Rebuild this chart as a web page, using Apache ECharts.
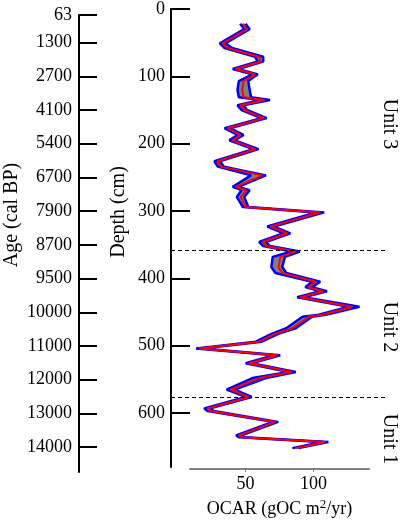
<!DOCTYPE html>
<html>
<head>
<meta charset="utf-8">
<script src="https://cdn.jsdelivr.net/npm/echarts@6/dist/echarts.min.js"></script>
<style>
  html, body { margin: 0; padding: 0; background: #fff; }
  #main { width: 401px; height: 520px; }
</style>
</head>
<body>
<div id="main"></div>
<script>
// depth of each sample (cm)
var depth = [22, 30, 51, 58, 71, 78, 89, 97, 107, 120,
    131, 135, 143, 150, 162, 177, 187, 195, 208, 226,
    234, 247, 264, 269, 279, 294, 302, 323, 333, 346,
    352, 360, 368, 383, 392, 405, 413, 419, 428, 442,
    454, 457, 474, 482, 494, 504, 514, 526, 539, 548,
    565, 576, 593, 597, 613, 633, 636, 643, 652];
// OCAR (red line)
var ocar = [48, 51, 33, 36.5, 60, 61, 42.6, 57, 48.5, 47.5,
    48.5, 64, 46.3, 49, 63.5, 36.5, 46.3, 40.2, 57.4, 29.2,
    31.6, 62.3, 42.6, 50.7, 46.3, 50, 105, 68.4, 80.7, 62.3,
    65.4, 86.8, 75.7, 74.3, 77, 102, 96.3, 107.4, 90.4, 128.7,
    106.4, 96.5, 84.3, 72, 59.8, 15.7, 73.3, 52.4, 84.3, 60,
    39, 52.4, 21.8, 24.3, 72, 45, 47, 108.8, 86.8];
// lower / upper envelope (blue lines)
var ocarLow = [46, 49, 31, 34.5, 57, 59, 40.5, 55, 45, 44,
    45, 61, 44, 47, 61.5, 34.5, 44, 38, 55.5, 27,
    29.5, 54, 40.5, 47, 43.5, 48, 102, 66, 78, 60,
    63, 84, 70, 69, 72, 99, 94, 105, 88, 126,
    104, 92, 80, 69.5, 57.5, 13.5, 71, 50, 82, 55,
    36, 50, 19.5, 22, 70, 43, 45, 106.5, 84.5];
var ocarHigh = [50, 53, 35, 40, 63, 63, 44.5, 59, 52, 53,
    54, 68, 48.5, 51, 65.5, 38.5, 48.5, 42, 59.5, 31,
    34, 65, 44.5, 53, 49, 52, 108, 71, 83, 65,
    68, 90, 79, 77, 80, 105, 99, 110, 93, 134,
    109, 99, 87, 74.5, 62, 18, 75.5, 54.5, 87, 65,
    42, 54.5, 24, 26.5, 74, 47, 49, 111, 89];

// age scale (labels placed at depth positions)
var ageDepth = [9, 50, 100, 150, 200, 250, 300, 350, 400, 450, 500, 550, 600, 650];
var ageLabels = ['63', '1300', '2700', '4100', '5400', '6700', '7900', '8700',
    '9500', '10000', '11000', '12000', '13000', '14000'];
var depthTicks = [0, 100, 200, 300, 400, 500, 600];
var ocarTicks = [50, 100];
var unitBounds = [358, 576];

var FONT = 'Liberation Serif';
var myChart = echarts.init(document.getElementById('main'));

var option = {
    backgroundColor: '#fff',
    animation: false,
    textStyle: { fontFamily: FONT },
    grid: [
        // age axis
        { left: 79, top: 15, width: 20, height: 457, outerBoundsMode: 'none' },
        // depth axis
        { left: 171, top: 9, width: 19, height: 458, outerBoundsMode: 'none' },
        // data
        { left: 190, right: 32, top: 9, height: 458, outerBoundsMode: 'none' },
        // dashed unit boundaries
        { left: 171, right: 13, top: 9, height: 458, outerBoundsMode: 'none' }
    ],
    xAxis: [
        { gridIndex: 0, type: 'value', show: false, min: 0, max: 1 },
        { gridIndex: 1, type: 'value', show: false, min: 0, max: 1 },
        {
            gridIndex: 2, type: 'value', position: 'bottom', min: 9, max: 141, offset: 2,
            axisLine: { onZero: false, lineStyle: { color: '#808080', width: 2 } },
            axisTick: { show: true, length: 3, customValues: ocarTicks, lineStyle: { color: '#808080', width: 1 } },
            axisLabel: { customValues: ocarTicks, color: '#000', fontSize: 18, fontFamily: FONT, margin: 6 },
            splitLine: { show: false },
            name: '{a|OCAR (gOC m}{s|2}{a|/yr)}',
            nameLocation: 'middle',
            nameGap: 27,
            nameTextStyle: {
                rich: {
                    a: { fontSize: 18, fontFamily: FONT, color: '#000' },
                    s: { fontSize: 13, fontFamily: FONT, color: '#000', padding: [0, 0, 9, 0] }
                }
            }
        },
        { gridIndex: 3, type: 'value', show: false, min: 0, max: 1 }
    ],
    yAxis: [
        {
            gridIndex: 0, type: 'value', inverse: true, min: 9, max: 687,
            axisLine: { onZero: false, lineStyle: { color: '#000', width: 2 } },
            axisTick: { inside: true, length: 18, customValues: ageDepth, lineStyle: { color: '#000', width: 2 } },
            axisLabel: {
                customValues: ageDepth, color: '#000', fontSize: 18, fontFamily: FONT, margin: 7,
                formatter: function (v) {
                    var i = ageDepth.indexOf(v);
                    return i >= 0 ? ageLabels[i] : '';
                }
            },
            splitLine: { show: false }
        },
        {
            gridIndex: 1, type: 'value', inverse: true, min: 0, max: 680,
            axisLine: { onZero: false, lineStyle: { color: '#000', width: 2 } },
            axisTick: { inside: true, length: 19, customValues: depthTicks, lineStyle: { color: '#000', width: 2 } },
            axisLabel: { customValues: depthTicks, color: '#000', fontSize: 18, fontFamily: FONT, margin: 6 },
            splitLine: { show: false }
        },
        { gridIndex: 2, type: 'value', show: false, inverse: true, min: 0, max: 680 },
        { gridIndex: 3, type: 'value', show: false, inverse: true, min: 0, max: 680 }
    ],
    graphic: [
        {
            type: 'text', x: 12, y: 215, rotation: Math.PI / 2,
            style: { text: 'Age (cal BP)', font: '20px "Liberation Serif"', fill: '#000', align: 'center', verticalAlign: 'middle' }
        },
        {
            type: 'text', x: 119, y: 212, rotation: Math.PI / 2,
            style: { text: 'Depth (cm)', font: '20px "Liberation Serif"', fill: '#000', align: 'center', verticalAlign: 'middle' }
        },
        {
            type: 'text', x: 389, y: 124, rotation: -Math.PI / 2,
            style: { text: 'Unit 3', font: '20px "Liberation Serif"', fill: '#000', align: 'center', verticalAlign: 'middle' }
        },
        {
            type: 'text', x: 389, y: 327, rotation: -Math.PI / 2,
            style: { text: 'Unit 2', font: '20px "Liberation Serif"', fill: '#000', align: 'center', verticalAlign: 'middle' }
        },
        {
            type: 'text', x: 389, y: 439, rotation: -Math.PI / 2,
            style: { text: 'Unit 1', font: '20px "Liberation Serif"', fill: '#000', align: 'center', verticalAlign: 'middle' }
        }
    ],
    series: [
        {
            // grey band between lower and upper envelope
            type: 'custom',
            xAxisIndex: 2, yAxisIndex: 2,
            data: [[ocar[0], depth[0]]],
            renderItem: function (params, api) {
                var pts = [];
                for (var i = 0; i < depth.length; i++) {
                    pts.push(api.coord([ocarHigh[i], depth[i]]));
                }
                for (var j = depth.length - 1; j >= 0; j--) {
                    pts.push(api.coord([ocarLow[j], depth[j]]));
                }
                return { type: 'polygon', shape: { points: pts }, style: { fill: '#808080' } };
            },
            silent: true
        },
        {
            type: 'line', xAxisIndex: 2, yAxisIndex: 2,
            data: depth.map(function (d, i) { return [ocarLow[i], d]; }),
            symbol: 'none', lineStyle: { color: '#0000ff', width: 2.5 }, silent: true
        },
        {
            type: 'line', xAxisIndex: 2, yAxisIndex: 2,
            data: depth.map(function (d, i) { return [ocarHigh[i], d]; }),
            symbol: 'none', lineStyle: { color: '#0000ff', width: 2.5 }, silent: true
        },
        {
            type: 'line', xAxisIndex: 2, yAxisIndex: 2,
            data: depth.map(function (d, i) { return [ocar[i], d]; }),
            symbol: 'none', lineStyle: { color: '#ff0000', width: 2 }, silent: true
        },
        {
            // unit boundaries
            type: 'line', xAxisIndex: 3, yAxisIndex: 3,
            data: [[0, 0]], symbol: 'none', lineStyle: { opacity: 0 },
            markLine: {
                silent: true, symbol: 'none', label: { show: false },
                lineStyle: { color: '#000', width: 1.2, type: [4, 3] },
                data: unitBounds.map(function (b) { return { yAxis: b }; })
            }
        }
    ]
};

myChart.setOption(option);
</script>
</body>
</html>
